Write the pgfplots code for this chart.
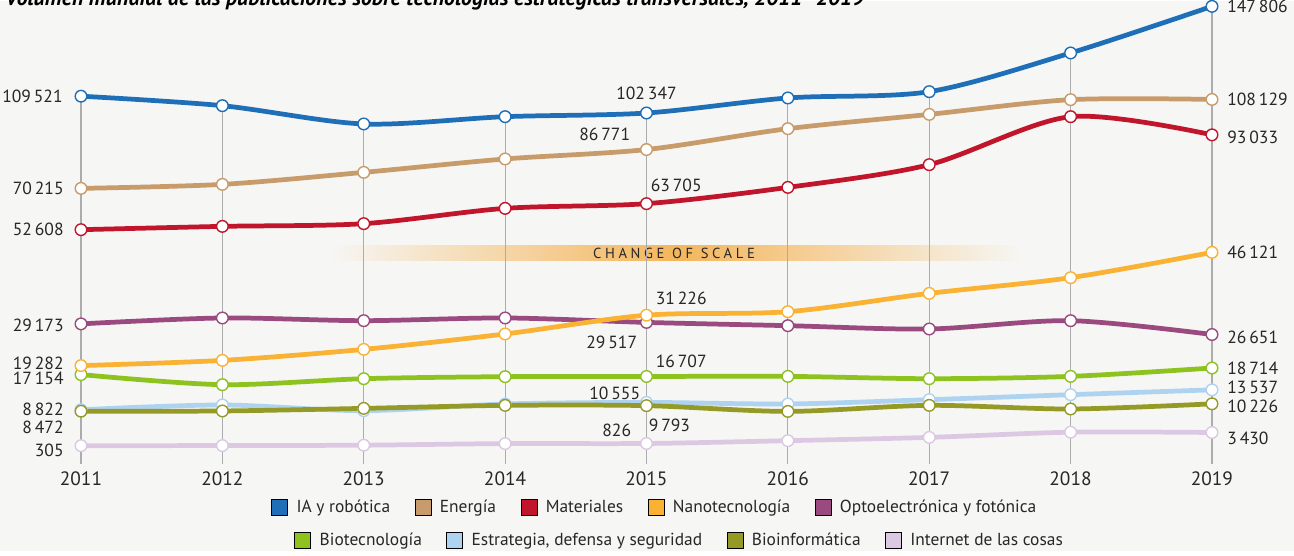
\documentclass[border=0pt]{standalone}
\usepackage{fontspec}
\setmainfont{PT Sans}
\usepackage{pgfplots}
\usepackage{pgfplotstable}
\pgfplotsset{compat=1.18}

\definecolor{bgcol}{RGB}{246,246,244}
\definecolor{txt}{RGB}{40,38,38}
\definecolor{gridcol}{RGB}{172,172,172}
\definecolor{bandcol}{RGB}{244,182,92}
\definecolor{iacol}{RGB}{31,111,184}
\definecolor{encol}{RGB}{200,155,106}
\definecolor{matcol}{RGB}{192,21,42}
\definecolor{nanocol}{RGB}{249,178,51}
\definecolor{optocol}{RGB}{154,74,126}
\definecolor{biocol}{RGB}{141,194,31}
\definecolor{estrcol}{RGB}{174,211,240}
\definecolor{binfcol}{RGB}{149,154,39}
\definecolor{iotcol}{RGB}{220,200,227}

% upper scale (above the change of scale)
\pgfplotstableread{
year ia energia materiales
2011 109521 70215 52608
2012 105470 71920 54020
2013 97670 77040 55170
2014 100780 82750 61690
2015 102347 86771 63705
2016 108750 95660 70640
2017 111440 101760 80320
2018 127940 108030 100780
2019 147806 108129 93033
}\uppertab

% lower scale
\pgfplotstableread{
year nano opto bio estr bioinf iot
2011 19282 29173 17154 8822 8472 305
2012 20520 30570 14760 9950 8530 330
2013 23130 29930 16180 8600 9145 420
2014 26780 30570 16660 10190 9860 800
2015 31226 29517 16707 10555 9793 826
2016 32060 28745 16730 10190 8430 1490
2017 36400 27960 16180 11210 9860 2270
2018 40120 29930 16730 12390 9000 3500
2019 46121 26651 18714 13537 10226 3430
}\lowertab

\pgfplotsset{
  base/.style={
    scale only axis, width=22.62cm, height=9.26cm,
    at={(1.62cm,1.74cm)}, anchor=south west,
    xmin=2011, xmax=2019, clip=false,
    axis y line=none, axis x line*=bottom,
    x axis line style={draw=none},
    ytick=\empty,
    legend image code/.code={\fill[##1] (0cm,-0.16cm) rectangle (0.32cm,0.16cm);
      \path (0.42cm,0cm);},
    legend style={draw=none, fill=none, font=\fontsize{9.9}{12}\selectfont\color{txt},
      /tikz/every even column/.append style={column sep=0.42cm}},
    legend cell align=left,
  },
  ser/.style={smooth, line width=2.7pt, color=#1, mark=*, mark size=3.3pt,
    mark options={fill=white, draw=#1, line width=0.8pt}, forget plot},
}
\tikzset{lab/.style={font=\fontsize{10}{12}\selectfont, text=txt, inner sep=0pt}}

\begin{document}
\begin{tikzpicture}
\fill[bgcol] (0,0) rectangle (25.88,11);

% title, cut off at the top as in the source
\begin{scope}
\clip (0,0) rectangle (25.88,11);
\node[overlay, anchor=base west, inner sep=0pt, text=black,
  font=\fontsize{12.5}{15}\selectfont\bfseries\itshape] at (0.1,10.9)
  {Volumen mundial de las publicaciones sobre tecnologías estratégicas transversales, 2011–2019};
\end{scope}

% change of scale band
\shade[left color=bgcol, right color=bgcol, middle color=bandcol] (6.6,5.8) rectangle (20.46,6.1);
\node[font=\fontsize{8.3}{10}\selectfont\addfontfeatures{LetterSpace=25}, text=txt] at (13.48,5.95) {CHANGE OF SCALE};

\begin{axis}[base,
  ymin=-47146, ymax=150231,
  xtick={2011,...,2019},
  xticklabel style={font=\fontsize{11}{13}\selectfont, text=txt, inner sep=0pt, yshift=-0.16cm},
  major tick length=0pt,
  /pgf/number format/1000 sep={},
  /pgf/number format/assume math mode=true,
  legend columns=5,
  legend style={at={(0.508,-0.095)}, anchor=center},
]
% vertical guide lines, from the top series down to the bottom
\addplot[draw=none, mark=none, forget plot,
  error bars/.cd, y dir=minus, y explicit, error mark=none,
  error bar style={gridcol, line width=0.6pt}]
  table[x=year, y=ia, y error expr=\thisrow{ia}+47146] {\uppertab};

\addplot[ser=matcol] table[x=year, y=materiales] {\uppertab};
\addplot[ser=encol] table[x=year, y=energia] {\uppertab};
\addplot[ser=iacol] table[x=year, y=ia] {\uppertab};

\addlegendimage{fill=iacol}\addlegendentry{IA y robótica}
\addlegendimage{fill=encol}\addlegendentry{Energía}
\addlegendimage{fill=matcol}\addlegendentry{Materiales}
\addlegendimage{fill=nanocol}\addlegendentry{Nanotecnología}
\addlegendimage{fill=optocol}\addlegendentry{Optoelectrónica y fotónica}

\node[lab, anchor=east, xshift=-0.36cm] at (axis cs:2011,109521) {109\,521};
\node[lab, anchor=east, xshift=-0.34cm] at (axis cs:2011,70215) {70\,215};
\node[lab, anchor=east, xshift=-0.34cm] at (axis cs:2011,52608) {52\,608};
\node[lab, anchor=south, yshift=0.26cm] at (axis cs:2015,102347) {102\,347};
\node[lab, anchor=south east, xshift=-0.32cm, yshift=0.16cm] at (axis cs:2015,86771) {86\,771};
\node[lab, anchor=south west, xshift=0.08cm, yshift=0.24cm] at (axis cs:2015,63705) {63\,705};
\node[lab, anchor=west, xshift=0.3cm] at (axis cs:2019,147806) {147\,806};
\node[lab, anchor=west, xshift=0.3cm] at (axis cs:2019,108129) {108\,129};
\node[lab, anchor=west, xshift=0.3cm, yshift=-0.05cm] at (axis cs:2019,93033) {93\,033};
\end{axis}

\begin{axis}[base,
  ymin=-3961, ymax=105770,
  xtick=\empty,
  legend columns=4,
  legend style={at={(0.53,-0.166)}, anchor=center},
]
\addplot[ser=iotcol] table[x=year, y=iot] {\lowertab};
\addplot[ser=estrcol] table[x=year, y=estr] {\lowertab};
\addplot[ser=binfcol] table[x=year, y=bioinf] {\lowertab};
\addplot[ser=biocol] table[x=year, y=bio] {\lowertab};
\addplot[ser=optocol] table[x=year, y=opto] {\lowertab};
\addplot[ser=nanocol] table[x=year, y=nano] {\lowertab};

\addlegendimage{fill=biocol}\addlegendentry{Biotecnología}
\addlegendimage{fill=estrcol}\addlegendentry{Estrategia, defensa y seguridad}
\addlegendimage{fill=binfcol}\addlegendentry{Bioinformática}
\addlegendimage{fill=iotcol}\addlegendentry{Internet de las cosas}

\node[lab, anchor=east, xshift=-0.34cm, yshift=-0.02cm] at (axis cs:2011,29173) {29\,173};
\node[lab, anchor=east, xshift=-0.34cm, yshift=0.04cm] at (axis cs:2011,19282) {19\,282};
\node[lab, anchor=east, xshift=-0.34cm, yshift=-0.08cm] at (axis cs:2011,17154) {17\,154};
\node[lab, anchor=east, xshift=-0.34cm] at (axis cs:2011,8822) {8\,822};
\node[lab, anchor=east, xshift=-0.34cm, yshift=-0.33cm] at (axis cs:2011,8472) {8\,472};
\node[lab, anchor=east, xshift=-0.34cm, yshift=-0.1cm] at (axis cs:2011,305) {305};
\node[lab, anchor=south west, xshift=0.18cm, yshift=0.2cm] at (axis cs:2015,31226) {31\,226};
\node[lab, anchor=north east, xshift=-0.18cm, yshift=-0.26cm] at (axis cs:2015,29517) {29\,517};
\node[lab, anchor=south west, xshift=0.18cm, yshift=0.16cm] at (axis cs:2015,16707) {16\,707};
\node[lab, anchor=south east, xshift=-0.12cm, yshift=0.05cm] at (axis cs:2015,10555) {10\,555};
\node[lab, anchor=north west, xshift=0.04cm, yshift=-0.26cm] at (axis cs:2015,9793) {9\,793};
\node[lab, anchor=south east, xshift=-0.3cm, yshift=0.12cm] at (axis cs:2015,826) {826};
\node[lab, anchor=west, xshift=0.3cm] at (axis cs:2019,46121) {46\,121};
\node[lab, anchor=west, xshift=0.3cm, yshift=-0.06cm] at (axis cs:2019,26651) {26\,651};
\node[lab, anchor=west, xshift=0.3cm] at (axis cs:2019,18714) {18\,714};
\node[lab, anchor=west, xshift=0.3cm, yshift=0.04cm] at (axis cs:2019,13537) {13\,537};
\node[lab, anchor=west, xshift=0.3cm, yshift=-0.06cm] at (axis cs:2019,10226) {10\,226};
\node[lab, anchor=west, xshift=0.3cm, yshift=-0.12cm] at (axis cs:2019,3430) {3\,430};
\end{axis}
\end{tikzpicture}
\end{document}
